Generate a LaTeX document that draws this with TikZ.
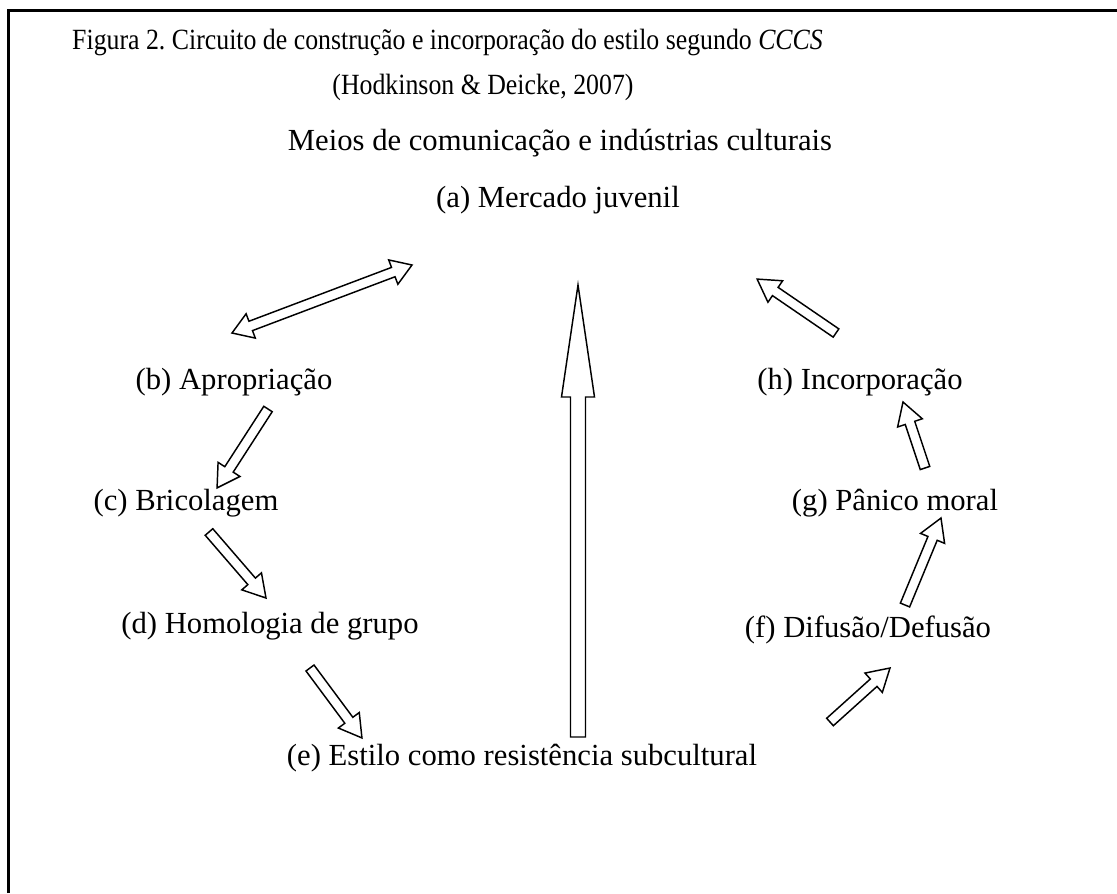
\documentclass[tikz,border=0pt]{standalone}
\usepackage{fontspec}
\setmainfont{Liberation Serif}
\usetikzlibrary{calc}
\frenchspacing
\tikzset{
  lbl/.style={inner sep=0pt, font=\fontsize{23}{27}\selectfont},
  ttl/.style={inner sep=0pt, font=\fontsize{22}{26}\selectfont, xscale=0.88},
  blk/.style={draw=black, line width=1.1pt, fill=white, line join=miter},
  frame/.style={draw=black, line width=1.6pt}
}
% single block arrow: from #1 to #2, shaft half width #3, head half width #4, head length #5 (px)
\newcommand\blockarr[5]{%
  \draw[blk] let \p1=(#1), \p2=(#2), \n1={atan2(\y2-\y1,\x2-\x1)}, \n2={veclen(\x2-\x1,\y2-\y1)} in
  [shift={(\p1)}, rotate=\n1]
  (0pt,{-#3*0.75pt}) -- ({\n2*1pt-#5*0.75pt},{-#3*0.75pt}) -- ({\n2*1pt-#5*0.75pt},{-#4*0.75pt})
  -- ({\n2*1pt},0pt) -- ({\n2*1pt-#5*0.75pt},{#4*0.75pt}) -- ({\n2*1pt-#5*0.75pt},{#3*0.75pt})
  -- (0pt,{#3*0.75pt}) -- cycle;}
% double block arrow
\newcommand\dblockarr[5]{%
  \draw[blk] let \p1=(#1), \p2=(#2), \n1={atan2(\y2-\y1,\x2-\x1)}, \n2={veclen(\x2-\x1,\y2-\y1)} in
  [shift={(\p1)}, rotate=\n1]
  (0pt,0pt) -- ({#5*0.75pt},{-#4*0.75pt}) -- ({#5*0.75pt},{-#3*0.75pt})
  -- ({\n2*1pt-#5*0.75pt},{-#3*0.75pt}) -- ({\n2*1pt-#5*0.75pt},{-#4*0.75pt})
  -- ({\n2*1pt},0pt) -- ({\n2*1pt-#5*0.75pt},{#4*0.75pt}) -- ({\n2*1pt-#5*0.75pt},{#3*0.75pt})
  -- ({#5*0.75pt},{#3*0.75pt}) -- ({#5*0.75pt},{#4*0.75pt}) -- cycle;}
\begin{document}
\begin{tikzpicture}[x=0.75pt,y=-0.75pt]
\useasboundingbox (0,0) rectangle (1117,893);
\fill[white] (0,0) rectangle (1117,893);
\draw[frame] (8.5,893) -- (8.5,10.5) -- (1117,10.5);

\node[ttl, anchor=west] (t1) at (72,42) {Figura 2. Circuito de construção e incorporação do estilo segundo \textit{CCCS}};
\node[ttl] (t2) at (483,87) {(Hodkinson \& Deicke, 2007)};
\node[lbl] (m) at (560,143) {Meios de comunicação e indústrias culturais};
\node[lbl] (a) at (558,200) {(a) Mercado juvenil};
\node[lbl] (b) at (234,382) {(b) Apropriação};
\node[lbl] (c) at (186,503) {(c) Bricolagem};
\node[lbl] (d) at (270,626) {(d) Homologia de grupo};
\node[lbl] (e) at (522,758) {(e) Estilo como resistência subcultural};
\node[lbl] (f) at (868,630) {(f) Difusão/Defusão};
\node[lbl] (g) at (895,503) {(g) Pânico moral};
\node[lbl] (h) at (860,382) {(h) Incorporação};

% arrow end points
\coordinate (ab1) at (232,333);
\coordinate (ab2) at (412,265);
\coordinate (bc1) at (268,409);
\coordinate (bc2) at (217,488);
\coordinate (cd1) at (209,532);
\coordinate (cd2) at (266,598);
\coordinate (de1) at (310,668);
\coordinate (de2) at (362,738);
\coordinate (ea1) at (578,737);
\coordinate (ea2) at (578,285);
\coordinate (ef1) at (830,722);
\coordinate (ef2) at (890,668);
\coordinate (fg1) at (905,605);
\coordinate (fg2) at (941,518);
\coordinate (gh1) at (925,468);
\coordinate (gh2) at (903,402);
\coordinate (ha1) at (836,333);
\coordinate (ha2) at (757,279);

\dblockarr{ab1}{ab2}{5}{13}{20}
\blockarr{bc1}{bc2}{5}{13}{22}
\blockarr{cd1}{cd2}{5}{13}{22}
\blockarr{de1}{de2}{5}{13}{22}
\blockarr{ea1}{ea2}{7.5}{16.5}{112}
\blockarr{ef1}{ef2}{5}{13}{22}
\blockarr{fg1}{fg2}{5}{13}{22}
\blockarr{gh1}{gh2}{5}{13}{22}
\blockarr{ha1}{ha2}{5}{13}{22}
\end{tikzpicture}
\end{document}
